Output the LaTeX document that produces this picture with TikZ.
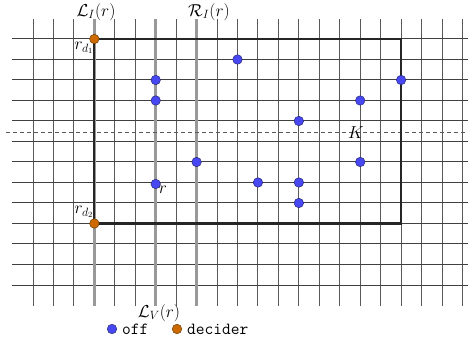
\documentclass[tikz,border=0pt]{standalone}
\usepackage{amsmath}
\begin{document}
\begin{tikzpicture}[x=1pt,y=-1pt,
  vline/.style={draw=black!65,line width=1pt},
  hline/.style={draw=black!75,line width=1pt},
  glane/.style={draw=black!40,line width=2.8pt},
  rectbox/.style={draw=black!85,line width=2.2pt},
  kline/.style={draw=black!65,line width=0.9pt,dash pattern=on 4pt off 3pt},
  offdot/.style={circle,fill={rgb,255:red,72;green,72;blue,242},draw={rgb,255:red,40;green,40;blue,120},line width=0.5pt,minimum size=9.5pt,inner sep=0pt},
  decdot/.style={circle,fill={rgb,255:red,204;green,106;blue,0},draw={rgb,255:red,110;green,60;blue,0},line width=0.5pt,minimum size=9.5pt,inner sep=0pt},
  lbl/.style={inner sep=0pt,font=\fontsize{17}{20}\selectfont},
  leg/.style={inner sep=0pt,anchor=west,font=\fontsize{17}{20}\selectfont\ttfamily}]
\useasboundingbox (0,0) rectangle (468,347);
% grid
\foreach \k in {0,...,21}{\draw[vline] ({33+20.45*\k},19) -- ({33+20.45*\k},306);}
\foreach \j in {0,...,12}{\draw[hline] (12,{39+20.5*\j}) -- (468,{39+20.5*\j});}
% gray lanes
\foreach \k in {3,6,8}{\draw[glane] ({33+20.45*\k},19) -- ({33+20.45*\k},306);}
% dashed K line
\draw[kline] (6,132) -- (468,132);
% rectangle
\draw[rectbox] ({33+20.45*3},39) rectangle ({33+20.45*18},{39+20.5*9});
% dots
\foreach \k/\j/\n in {10/1/a,6/2/b,6/3/c,18/2/d,16/3/e,13/4/f,8/6/g,16/6/h,11/7/i,13/7/jj,13/8/l}
  {\node[offdot] (\n) at ({33+20.45*\k},{39+20.5*\j}) {};}
\node[offdot] (r) at ({33+20.45*6},184) {};
\node[decdot] (d1) at ({33+20.45*3},39) {};
\node[decdot] (d2) at ({33+20.45*3},{39+20.5*9}) {};
% labels
\node[lbl] (LI) at (96,12) {$\mathcal{L}_I(r)$};
\node[lbl] (RI) at (209,12) {$\mathcal{R}_I(r)$};
\node[lbl] (rd1) at (84,48) {$r_{d_1}$};
\node[lbl] (rd2) at (84,212) {$r_{d_2}$};
\node[lbl] (rl) at (163,190) {$r$};
\node[lbl] (K) at (356,133) {$K$};
\node[lbl] (LV) at (159,313) {$\mathcal{L}_V(r)$};
% legend
\node[offdot] (lo) at (112,329) {};
\node[leg] (lot) at (122,329) {off};
\node[decdot] (ld) at (177,329) {};
\node[leg] (ldt) at (187,329) {decider};
\end{tikzpicture}
\end{document}
